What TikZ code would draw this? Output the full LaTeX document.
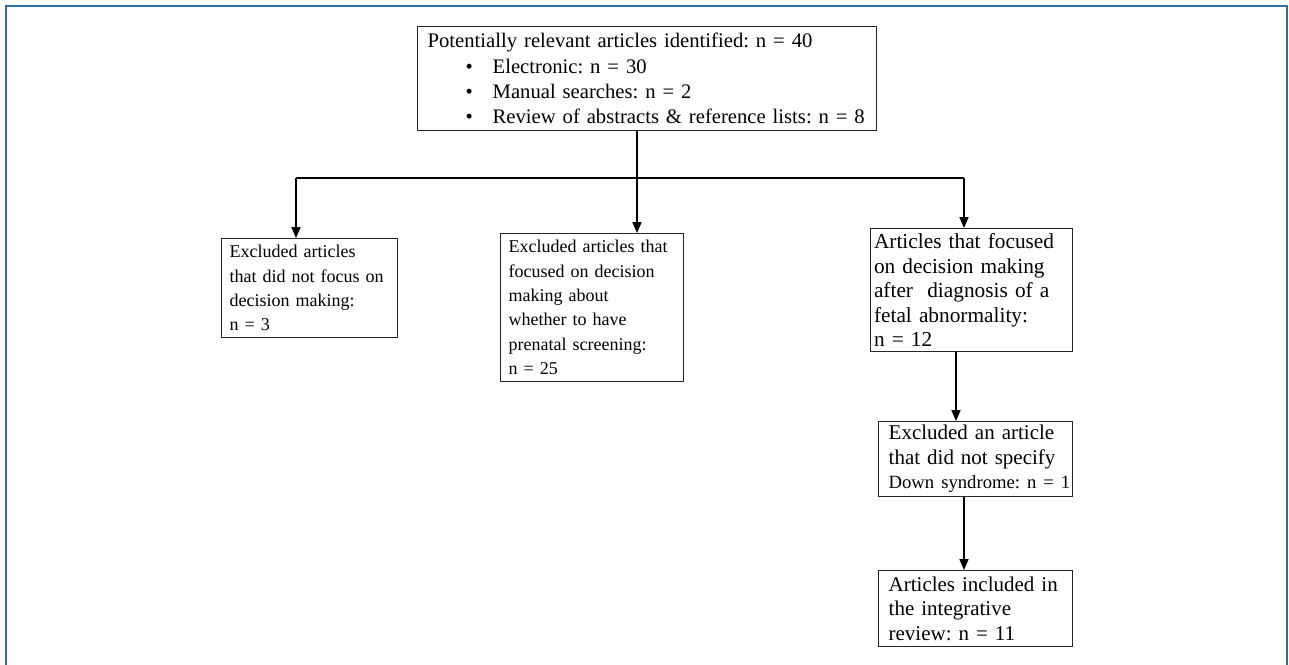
\documentclass[tikz,border=0pt]{standalone}
\usepackage{fontspec}
\setmainfont{Liberation Serif}
\usetikzlibrary{arrows.meta}
\frenchspacing
\newcommand\bigtxt{\fontsize{12.6}{14.7}\selectfont}
\newcommand\smalltxt{\fontsize{10.8}{14.6}\selectfont}
\newcommand\itembullet{\hspace*{22.8pt}\makebox[16.2pt][l]{\textbullet}}

\begin{document}
\begin{tikzpicture}[x=0.6pt,y=-0.6pt,box/.style={draw=black!85,line width=0.8pt,anchor=north west,inner ysep=0pt,align=left},flow/.style={line width=0.9pt,-{Triangle[length=6.5pt,width=5.4pt]}},frame/.style={draw={rgb,255:red,46;green,112;blue,162},line width=1.2pt}]
\useasboundingbox (0,0) rectangle (1289,665);
\draw[frame] (6,665) -- (6,6) -- (1287,6) -- (1287,665);
\coordinate (bl) at (296,178);
\coordinate (bm) at (637,178);
\coordinate (br) at (964,178);
\coordinate (c1) at (956,0);
\coordinate (c2) at (964,0);
\node[box,inner xsep=6pt,text width=263.4pt,minimum height=62.4pt,font=\fontsize{12.4}{15.2}\selectfont] (top) at (417,26) {Potentially relevant articles identified: n = 40\\
\itembullet Electronic: n = 30\\
\itembullet Manual searches: n = 2\\
\itembullet \mbox{Review of abstracts \& reference lists: n = 8}};
\node[box,inner xsep=4.8pt,text width=96pt,minimum height=59.4pt,font=\smalltxt] (nofocus) at (221,238) {Excluded articles\\ that did not focus on\\ decision making:\\ n = 3};
\node[box,inner xsep=4.8pt,text width=100.2pt,minimum height=88.8pt,font=\smalltxt] (screen) at (500,233) {Excluded articles that\\ focused on decision\\ making about\\ whether to have\\ prenatal screening:\\ n = 25};
\node[box,inner xsep=2pt,text width=117.2pt,minimum height=73.8pt,font=\fontsize{12.8}{14.7}\selectfont] (focus) at (870,228) {Articles that focused\\ on decision making\\ after\ \ diagnosis of a\\ fetal abnormality:\\ n = 12};
\node[box,inner xsep=6pt,text width=104.4pt,minimum height=45pt,font=\bigtxt] (down) at (878,421) {Excluded an article\\ that did not specify\\ \mbox{\fontsize{11.2}{14.7}\selectfont Down syndrome: n = 1}};
\node[box,inner xsep=6pt,text width=104.4pt,minimum height=45.6pt,font=\bigtxt] (incl) at (878,570) {Articles included in\\ the integrative\\ review: n = 11};
\draw[flow] (top.south -| bm) -- (screen.north -| bm);
\draw[line width=0.9pt] (bl) -- (br);
\draw[flow] (bl) -- (nofocus.north -| bl);
\draw[flow] (br) -- (focus.north -| br);
\draw[flow] (focus.south -| c1) -- (down.north -| c1);
\draw[flow] (down.south -| c2) -- (incl.north -| c2);
\end{tikzpicture}
\end{document}
